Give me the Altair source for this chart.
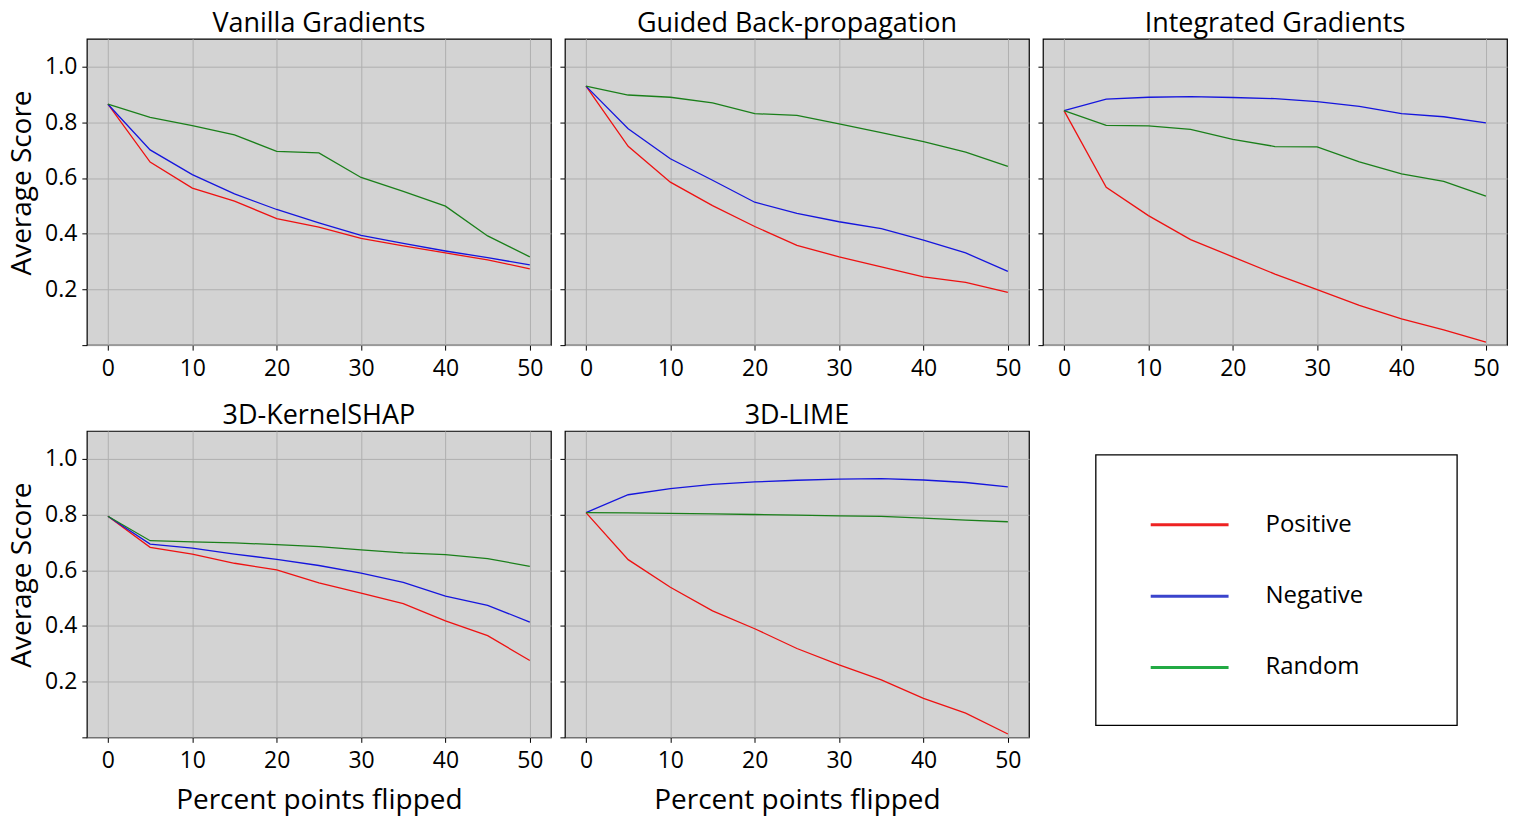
import altair as alt
import pandas as pd

# ---------------- data ----------------
x_vals = [0, 5, 10, 15, 20, 25, 30, 35, 40, 45, 50]
series_names = ["Positive", "Negative", "Random"]
methods = ["Vanilla Gradients", "Guided Back-propagation", "Integrated Gradients",
           "3D-KernelSHAP", "3D-LIME"]

vanilla_pos = [0.865, 0.657, 0.564, 0.517, 0.454, 0.424, 0.383, 0.356, 0.331, 0.306, 0.274]
vanilla_neg = [0.865, 0.701, 0.612, 0.543, 0.487, 0.439, 0.394, 0.365, 0.338, 0.314, 0.288]
vanilla_rnd = [0.865, 0.818, 0.788, 0.755, 0.696, 0.690, 0.602, 0.552, 0.499, 0.392, 0.317]

guided_pos = [0.930, 0.714, 0.585, 0.501, 0.426, 0.358, 0.317, 0.281, 0.245, 0.225, 0.189]
guided_neg = [0.930, 0.777, 0.669, 0.592, 0.513, 0.473, 0.443, 0.418, 0.377, 0.331, 0.265]
guided_rnd = [0.930, 0.898, 0.890, 0.870, 0.831, 0.825, 0.794, 0.763, 0.731, 0.693, 0.642]

integ_pos = [0.842, 0.567, 0.465, 0.379, 0.317, 0.255, 0.199, 0.143, 0.094, 0.055, 0.011]
integ_neg = [0.842, 0.883, 0.890, 0.892, 0.889, 0.885, 0.874, 0.857, 0.831, 0.820, 0.798]
integ_rnd = [0.842, 0.789, 0.787, 0.775, 0.739, 0.713, 0.712, 0.658, 0.615, 0.588, 0.535]

kshap_pos = [0.794, 0.682, 0.658, 0.625, 0.601, 0.555, 0.518, 0.480, 0.418, 0.365, 0.276]
kshap_neg = [0.794, 0.694, 0.679, 0.658, 0.639, 0.617, 0.590, 0.556, 0.507, 0.474, 0.414]
kshap_rnd = [0.794, 0.706, 0.702, 0.698, 0.692, 0.685, 0.673, 0.662, 0.656, 0.642, 0.614]

lime_pos = [0.807, 0.638, 0.539, 0.454, 0.390, 0.319, 0.260, 0.206, 0.140, 0.087, 0.012]
lime_neg = [0.807, 0.871, 0.893, 0.908, 0.917, 0.923, 0.927, 0.929, 0.924, 0.915, 0.899]
lime_rnd = [0.807, 0.806, 0.804, 0.802, 0.800, 0.798, 0.795, 0.793, 0.787, 0.780, 0.774]

all_values = {
    "Vanilla Gradients": [vanilla_pos, vanilla_neg, vanilla_rnd],
    "Guided Back-propagation": [guided_pos, guided_neg, guided_rnd],
    "Integrated Gradients": [integ_pos, integ_neg, integ_rnd],
    "3D-KernelSHAP": [kshap_pos, kshap_neg, kshap_rnd],
    "3D-LIME": [lime_pos, lime_neg, lime_rnd],
}

x_ticks = [0, 10, 20, 30, 40, 50]
y_ticks = [0.0, 0.2, 0.4, 0.6, 0.8, 1.0]

rows = []
for m in methods:
    for s, vals in zip(series_names, all_values[m]):
        for xv, yv in zip(x_vals, vals):
            rows.append({"method": m, "series": s, "x": xv, "y": yv})
df = pd.DataFrame(rows)

line_colors = ["#ee1111", "#1515dd", "#1a7f1a"]
legend_colors = ["#ee2222", "#3a44cc", "#22aa44"]

FONT = "Open Sans"
PW, PH = 465, 307


def panel(method, y_labels, y_title, x_title):
    sub = df[df["method"] == method]
    return alt.Chart(sub).mark_line(strokeWidth=1.3).encode(
        x=alt.X("x:Q",
                scale=alt.Scale(domain=[-2.5, 52.5], nice=False, zero=False),
                axis=alt.Axis(values=x_ticks, title=x_title if x_title else "",
                              format="d", grid=True)),
        y=alt.Y("y:Q",
                scale=alt.Scale(domain=[0, 1.1], nice=False),
                axis=alt.Axis(values=y_ticks, title=y_title if y_title else "",
                              labels=y_labels,
                              labelExpr="datum.value == 0 ? '' : format(datum.value, '.1f')",
                              grid=True)),
        color=alt.Color("series:N",
                        scale=alt.Scale(domain=series_names, range=line_colors),
                        legend=None),
    ).properties(width=PW, height=PH,
                 title=alt.TitleParams(method, fontSize=27, font=FONT,
                                       fontWeight="normal", color="black",
                                       offset=1))


p1 = panel(methods[0], True, "Average Score", None)
p2 = panel(methods[1], False, None, None)
p3 = panel(methods[2], False, None, None)
p4 = panel(methods[3], True, "Average Score", "Percent points flipped")
p5 = panel(methods[4], False, None, "Percent points flipped")

# ---------------- legend panel ----------------
legend_df = pd.DataFrame({"series": series_names})
frame_df = pd.DataFrame({"frame": ["legend"]})
ly = alt.Y("series:N", sort=series_names,
           scale=alt.Scale(type="point", domain=series_names, range=[94, 237], padding=0),
           axis=None)
lcolor = alt.Color("series:N", scale=alt.Scale(domain=series_names, range=legend_colors),
                   legend=None)
legend_frame = alt.Chart(frame_df).mark_rect(
    fill="white", stroke="black", strokeWidth=1.3).encode(
    x=alt.value(53), x2=alt.value(415), y=alt.value(24), y2=alt.value(295))
legend_lines = alt.Chart(legend_df).mark_rule(strokeWidth=3).encode(
    x=alt.value(108), x2=alt.value(186), y=ly, color=lcolor)
legend_text = alt.Chart(legend_df).mark_text(
    align="left", baseline="middle", fontSize=24, font=FONT, color="black").encode(
    x=alt.value(223), y=ly, text="series:N")
legend_cell = alt.layer(legend_frame, legend_lines, legend_text).properties(
    width=PW, height=PH,
    view=alt.ViewBackground(fillOpacity=0, strokeOpacity=0))

chart = alt.concat(
    p1, p2, p3, p4, p5, legend_cell,
    columns=3, bounds="flush",
    spacing=alt.RowColnumber(row=86, column=14),
).resolve_scale(
    color="independent"
).properties(
    padding={"left": 0, "top": 0, "right": 0, "bottom": 0}
).configure_view(
    fill="#d3d3d3", stroke="black", strokeWidth=1.2
).configure_axis(
    labelFont=FONT, titleFont=FONT, labelFontSize=23, titleFontSize=28,
    labelColor="black", titleColor="black", titleFontWeight="normal",
    tickColor="black", tickSize=5, tickWidth=1, domain=False,
    gridColor="#b0b0b0", gridWidth=1
).configure_axisY(
    labelPadding=5, titlePadding=8, titleY=144
).configure_axisX(
    labelPadding=7, titlePadding=14
)

chart.save("out.html", embed_options={"renderer": "svg", "actions": False})
